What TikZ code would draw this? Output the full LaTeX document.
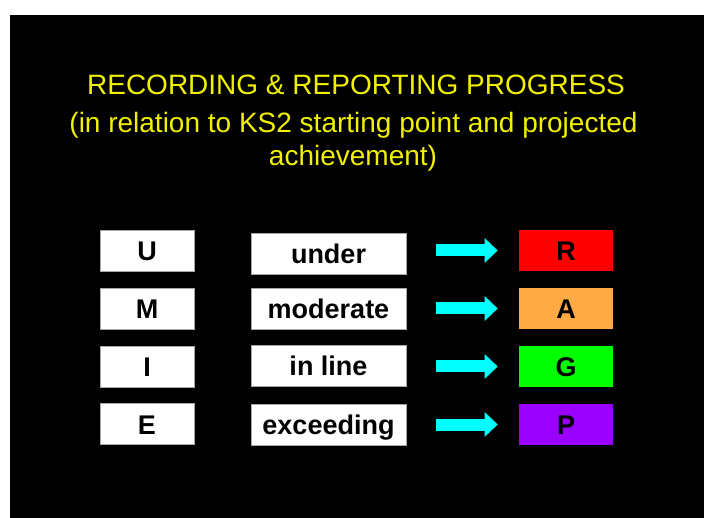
\documentclass[tikz,border=0pt]{standalone}
\usepackage{fontspec}
\setmainfont{Liberation Sans}
\usetikzlibrary{arrows.meta,positioning}
\definecolor{titleyellow}{RGB}{240,240,0}
\definecolor{arrowcyan}{RGB}{0,255,255}
\definecolor{ragred}{RGB}{255,0,0}
\definecolor{ragamber}{RGB}{255,170,68}
\definecolor{raggreen}{RGB}{0,255,0}
\definecolor{ragpurple}{RGB}{153,0,255}

\begin{document}
\begin{tikzpicture}[
    x=1pt, y=-1pt,
    heading/.style={anchor=base, text=titleyellow, inner sep=0pt,
                    font=\fontsize{28}{33}\selectfont},
    codebox/.style={rectangle, fill=white, draw=gray!70, line width=0.6pt,
                    minimum width=94pt, minimum height=41pt, inner sep=0pt,
                    text height=20pt, text depth=0pt,
                    font=\fontsize{27}{32}\selectfont\bfseries},
    wordbox/.style={codebox, minimum width=155pt},
    ragbox/.style={codebox, draw=none},
    flow/.style={arrowcyan, line width=12pt, -{Triangle[length=13pt,width=24pt]},
                 shorten <=30pt, shorten >=21pt}
  ]
    \fill[white] (0,0) rectangle (704,518);
    \fill[black] (10,15) rectangle (704,518);

    \node[heading] (title) at (356,95) {RECORDING \& REPORTING PROGRESS};
    \node[heading] (sub1) at (353.5,133) {(in relation to KS2 starting point and projected};
    \node[heading] (sub2) at (353,166) {achievement)};

    \node[codebox] (u) at (147,250.5) {U};
    \node[codebox] (m) at (147,308.5) {M};
    \node[codebox] (i) at (147,366.5) {I};
    \node[codebox] (e) at (147,424) {E};

    \node[wordbox] (under) at (328.5,253.5) {under};
    \node[wordbox] (moderate) at (328.5,308.5) {moderate};
    \node[wordbox] (inline) at (328.5,366) {in line};
    \node[wordbox] (exceeding) at (328.5,424.5) {exceeding};

    \node[ragbox, fill=ragred] (r) at (566,250.5) {R};
    \node[ragbox, fill=ragamber] (a) at (566,308.5) {A};
    \node[ragbox, fill=raggreen] (g) at (566,366.5) {G};
    \node[ragbox, fill=ragpurple] (p) at (566,424.5) {P};

    \draw[flow] (under.east |- r) -- (r.west);
    \draw[flow] (moderate.east |- a) -- (a.west);
    \draw[flow] (inline.east |- g) -- (g.west);
    \draw[flow] (exceeding.east |- p) -- (p.west);
\end{tikzpicture}
\end{document}
